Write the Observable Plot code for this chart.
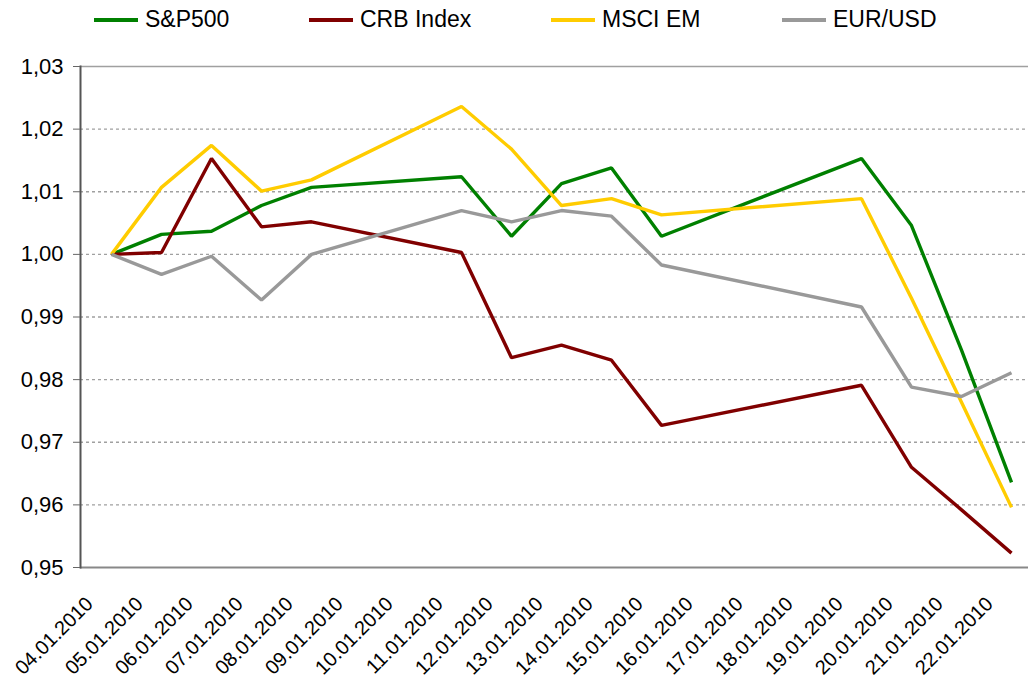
<!DOCTYPE html>
<html>
<head>
<meta charset="utf-8">
<script src="https://cdn.jsdelivr.net/npm/d3@7"></script>
<script src="https://cdn.jsdelivr.net/npm/@observablehq/plot@0.6"></script>
<style>
  html, body { margin: 0; padding: 0; background: #fff; }
  body { width: 1028px; height: 681px; overflow: hidden; font-family: "Liberation Sans", Arial, sans-serif; }
  #legend { position: relative; height: 40px; }
  .item { position: absolute; top: 6px; display: flex; align-items: center; font-size: 23px; color: #000; }
  .sw { width: 44px; height: 4px; margin-right: 7px; }
</style>
</head>
<body>
<div id="legend"></div>
<div id="chart"></div>
<script>
const dates = ["04.01.2010","05.01.2010","06.01.2010","07.01.2010","08.01.2010","09.01.2010","10.01.2010","11.01.2010","12.01.2010","13.01.2010","14.01.2010","15.01.2010","16.01.2010","17.01.2010","18.01.2010","19.01.2010","20.01.2010","21.01.2010","22.01.2010"];
const sp500  = [1.000, 1.0032, 1.0037, 1.0078, 1.0107, null, null, 1.0124, 1.0029, 1.0113, 1.0138, 1.0029, null, null, null, 1.0153, 1.0046, 0.9847, 0.9636];
const crb    = [1.000, 1.0003, 1.0153, 1.0044, 1.0052, null, null, 1.0003, 0.9835, 0.9855, 0.9831, 0.9727, null, null, null, 0.9791, 0.9660, 0.9592, 0.9523];
const msciEm = [1.000, 1.0107, 1.0174, 1.0101, 1.0119, null, null, 1.0236, 1.0168, 1.0078, 1.0089, 1.0063, null, null, null, 1.0089, 0.9930, 0.9764, 0.9596];
const eurUsd = [1.000, 0.9968, 0.9997, 0.9927, 1.000, null, null, 1.0070, 1.0052, 1.0070, 1.0061, 0.9983, null, null, null, 0.9916, 0.9788, 0.9773, 0.9811];
const seriesNames = ["S&P500", "CRB Index", "MSCI EM", "EUR/USD"];
const seriesColors = ["#008000", "#800000", "#FFCC00", "#999999"];
const yTicks = [0.95, 0.96, 0.97, 0.98, 0.99, 1.00, 1.01, 1.02, 1.03];

const allSeries = [sp500, crb, msciEm, eurUsd];
const data = [];
allSeries.forEach((vals, si) => {
  vals.forEach((v, i) => {
    if (v != null) data.push({series: seriesNames[si], date: dates[i], value: v});
  });
});

// legend
const legendLeft = [94, 309, 551, 782];
const legend = document.getElementById("legend");
seriesNames.forEach((name, i) => {
  const it = document.createElement("div");
  it.className = "item";
  it.style.left = legendLeft[i] + "px";
  const sw = document.createElement("span");
  sw.className = "sw";
  sw.style.background = seriesColors[i];
  const tx = document.createElement("span");
  tx.textContent = name;
  it.appendChild(sw); it.appendChild(tx);
  legend.appendChild(it);
});

const fmt = d => d.toFixed(2).replace(".", ",");

const chart = Plot.plot({
  width: 1028,
  height: 641,
  marginTop: 26,
  marginBottom: 114,
  marginLeft: 80,
  marginRight: 0,
  style: {fontFamily: "Liberation Sans, Arial, sans-serif", fontSize: "20px", color: "#000", background: "#fff"},
  x: {type: "point", domain: dates, range: [106, 1016], padding: 0},
  y: {domain: [0.95, 1.03]},
  color: {domain: seriesNames, range: seriesColors},
  marks: [
    Plot.ruleY(yTicks.slice(1, -1), {stroke: "#a0a0a0", strokeWidth: 1.3, strokeDasharray: "3,3"}),
    Plot.ruleY([yTicks[yTicks.length - 1]], {stroke: "#a0a0a0", strokeWidth: 1.5}),
    Plot.ruleY([yTicks[0]], {stroke: "#888", strokeWidth: 2}),
    Plot.frame({anchor: "left", stroke: "#555", strokeWidth: 2}),
    Plot.axisY({ticks: yTicks, tickFormat: fmt, tickSize: 7, tickPadding: 10, stroke: "#666", fontSize: 22, label: null}),
    Plot.axisX({tickRotate: -45, tickSize: 0, tickPadding: 14, fontSize: 20, label: null, dx: -22, dy: 19}),
    Plot.line(data, {x: "date", y: "value", z: "series", stroke: "series", strokeWidth: 3.4, strokeLinejoin: "miter", strokeLinecap: "butt"})
  ]
});
document.getElementById("chart").appendChild(chart);
</script>
</body>
</html>
